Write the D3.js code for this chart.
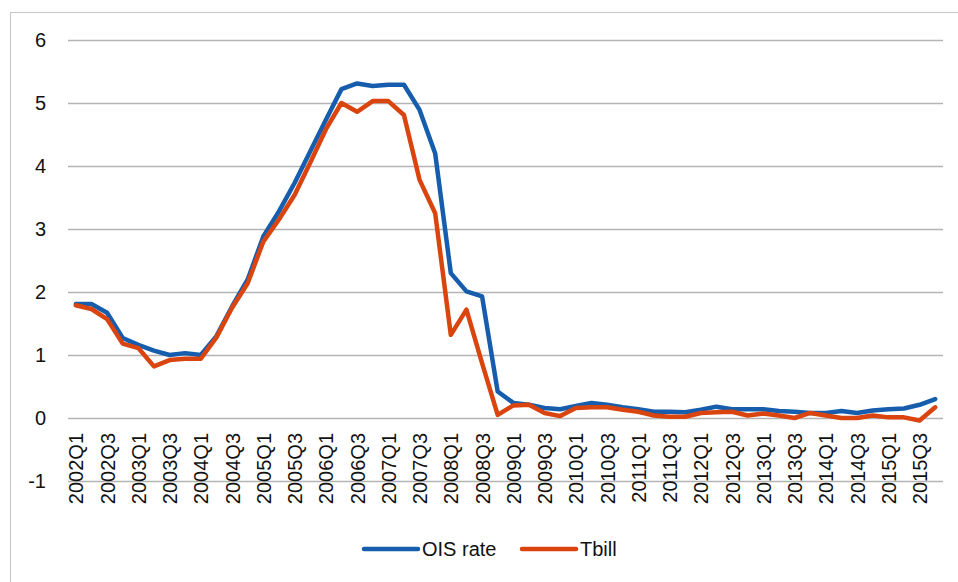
<!DOCTYPE html>
<html>
<head>
<meta charset="utf-8">
<script src="https://cdn.jsdelivr.net/npm/d3@7"></script>
<style>
  html, body { margin: 0; padding: 0; background: #fff; }
  svg { display: block; }
  text { font-family: "Liberation Sans", Arial, sans-serif; fill: #111; }
</style>
</head>
<body>
<svg id="chart" width="958" height="582"></svg>
<script>
// Quarters 2002Q1 .. 2015Q4
const quarters = [];
for (let yr = 2002; yr <= 2015; yr++) for (let q = 1; q <= 4; q++) quarters.push(yr + "Q" + q);

// OIS rate (%) per quarter
const oisRate = [
  1.81, 1.81, 1.67, 1.27, 1.16, 1.07, 1.00, 1.03,
  1.00, 1.30, 1.77, 2.20, 2.88, 3.28, 3.73, 4.23,
  4.73, 5.22, 5.31, 5.27, 5.29, 5.29, 4.89, 4.20,
  2.30, 2.01, 1.93, 0.42, 0.24, 0.21, 0.16, 0.14,
  0.19, 0.24, 0.21, 0.17, 0.14, 0.10, 0.10, 0.09,
  0.13, 0.18, 0.14, 0.14, 0.14, 0.11, 0.10, 0.08,
  0.08, 0.11, 0.08, 0.12, 0.14, 0.15, 0.21, 0.30
];

// Treasury bill rate (%) per quarter
const tbill = [
  1.79, 1.73, 1.57, 1.18, 1.11, 0.82, 0.92, 0.94,
  0.94, 1.28, 1.75, 2.14, 2.80, 3.15, 3.54, 4.05,
  4.58, 5.00, 4.86, 5.03, 5.03, 4.81, 3.78, 3.25,
  1.32, 1.72, 0.87, 0.05, 0.20, 0.21, 0.08, 0.03,
  0.16, 0.17, 0.17, 0.13, 0.10, 0.04, 0.02, 0.02,
  0.08, 0.09, 0.10, 0.04, 0.07, 0.04, 0.00, 0.08,
  0.04, 0.00, 0.00, 0.04, 0.01, 0.01, -0.04, 0.17
];

// Every other quarter is labelled on the category axis
const xTickLabels = quarters.filter((d, i) => i % 2 === 0);
const yTicks = [-1, 0, 1, 2, 3, 4, 5, 6];

const seriesNames = ["OIS rate", "Tbill"];
const seriesColors = ["#165DAD", "#D9440F"];

const svg = d3.select("#chart");

// outer chart frame
svg.append("rect")
  .attr("x", 10.5).attr("y", 12.5)
  .attr("width", 960).attr("height", 600)
  .attr("fill", "none").attr("stroke", "#c8c8c8").attr("stroke-width", 1);

const plot = { left: 68, right: 943, top: 40, bottom: 481 };

const x = d3.scalePoint().domain(quarters).range([plot.left, plot.right]).padding(0.5);
const y = d3.scaleLinear().domain([-1, 6]).range([plot.bottom, plot.top]);

const fontCss = "'Liberation Sans', Arial, sans-serif";

// horizontal gridlines + value labels
const yAxis = svg.append("g")
  .attr("transform", `translate(${plot.left},0)`)
  .call(d3.axisLeft(y).tickValues(yTicks).tickFormat(d => String(d))
    .tickSize(-(plot.right - plot.left)).tickPadding(22));
yAxis.select(".domain").remove();
yAxis.selectAll(".tick line").attr("stroke", "#b4b4b4").attr("stroke-width", 1.5);
yAxis.selectAll(".tick text").attr("font-size", 20).attr("fill", "#111")
  .style("font-family", fontCss);

// category labels, rotated
const xAxis = svg.append("g")
  .attr("transform", `translate(0,${y(0)})`)
  .call(d3.axisBottom(x).tickValues(xTickLabels).tickSize(0).tickPadding(0));
xAxis.select(".domain").remove();
xAxis.selectAll(".tick text")
  .attr("font-size", 20).attr("fill", "#111")
  .style("font-family", fontCss)
  .attr("text-anchor", "end")
  .attr("dy", null)
  .attr("transform", "translate(7,15) rotate(-90)")
  .attr("x", 0).attr("y", 0);

// series lines
const line = d3.line().x((d, i) => x(quarters[i])).y(d => y(d));
[oisRate, tbill].forEach((vals, k) => {
  svg.append("path")
    .datum(vals)
    .attr("fill", "none")
    .attr("stroke", seriesColors[k])
    .attr("stroke-width", 4.5)
    .attr("stroke-linejoin", "round")
    .attr("stroke-linecap", "round")
    .attr("d", line);
});

// legend
const legendPos = [364, 522];
const legend = svg.append("g");
seriesNames.forEach((name, k) => {
  const g = legend.append("g").attr("transform", `translate(${legendPos[k]},549)`);
  g.append("line").attr("x1", 0).attr("x2", 54).attr("y1", 0).attr("y2", 0)
    .attr("stroke", seriesColors[k]).attr("stroke-width", 4.5).attr("stroke-linecap", "round");
  g.append("text").attr("x", 58).attr("y", 0).attr("dy", "0.35em")
    .attr("font-size", 20).text(name);
});
</script>
</body>
</html>
